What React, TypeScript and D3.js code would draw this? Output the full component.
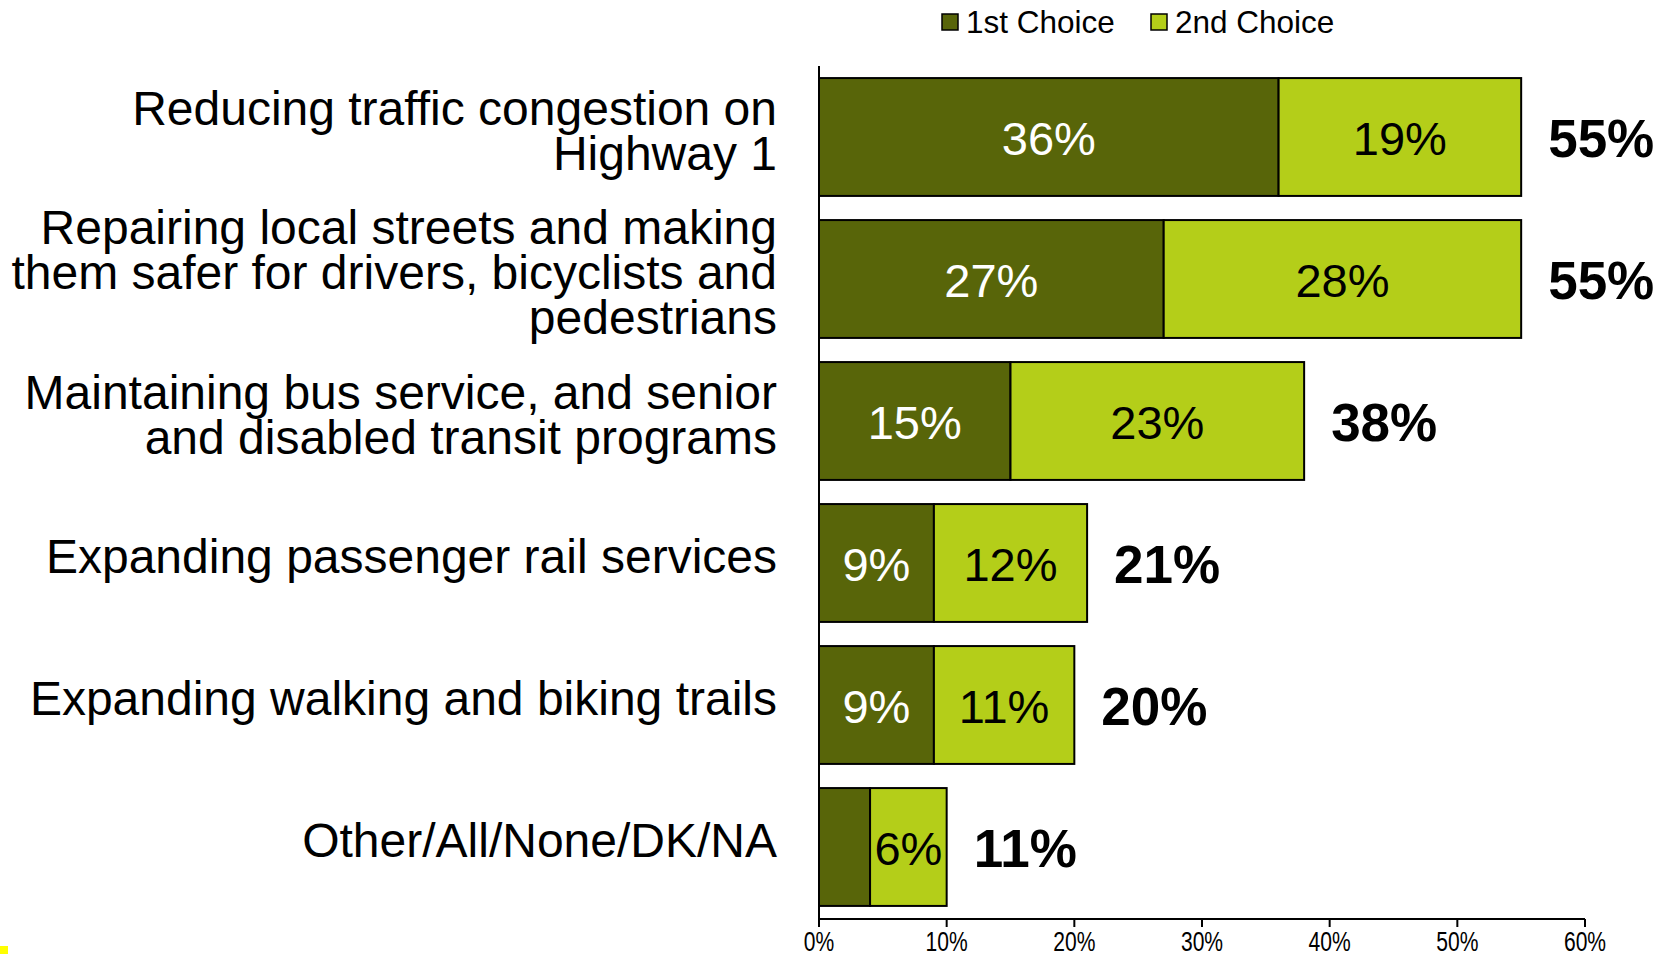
import React from "react";
import * as d3 from "d3";

const categories = [
  ["Reducing traffic congestion on", "Highway 1"],
  ["Repairing local streets and making", "them safer for drivers, bicyclists and", "pedestrians"],
  ["Maintaining bus service, and senior", "and disabled transit programs"],
  ["Expanding passenger rail services"],
  ["Expanding walking and biking trails"],
  ["Other/All/None/DK/NA"],
];
const firstChoice = [36, 27, 15, 9, 9, 4];
const secondChoice = [19, 28, 23, 12, 11, 6];
const firstLabels = ["36%", "27%", "15%", "9%", "9%", ""];
const secondLabels = ["19%", "28%", "23%", "12%", "11%", "6%"];
const totalLabels = ["55%", "55%", "38%", "21%", "20%", "11%"];
const ticks = [0, 10, 20, 30, 40, 50, 60];
const seriesNames = ["1st Choice", "2nd Choice"];

const W = 1675;
const H = 954;
const DARK = "#586509";
const LIGHT = "#b4ce19";
const FONT = "'Liberation Sans', Arial, sans-serif";

export default function App() {
  const x = d3.scaleLinear().domain([0, 60]).range([819, 1585]);
  const idx = categories.map((_, i) => i);
  const y = d3.scaleBand<number>().domain(idx).range([66, 918]).paddingInner(0.17).paddingOuter(0.085);
  const bw = y.bandwidth();
  const colors = [DARK, LIGHT];

  return (
    <svg width={W} height={H} style={{ position: "absolute", left: 0, top: 0, background: "#fff" }} fontFamily={FONT}>
      <rect x={0} y={946} width={8} height={8} fill="#ffff00" />
      {/* legend */}
      {seriesNames.map((s, i) => {
        const lx = [942, 1151][i];
        return (
          <g key={s}>
            <rect x={lx} y={14} width={16} height={16} fill={colors[i]} stroke="#000" strokeWidth={1.5} />
            <text x={lx + 24} y={33} fontSize={31.5} fill="#000">{s}</text>
          </g>
        );
      })}
      {/* bars */}
      {idx.map((i) => {
        const y0 = y(i)!;
        const cy = y0 + bw / 2;
        const a = firstChoice[i];
        const b = secondChoice[i];
        const lines = categories[i];
        return (
          <g key={i}>
            <rect x={x(0)} y={y0} width={x(a) - x(0)} height={bw} fill={DARK} stroke="#000" strokeWidth={2} />
            <rect x={x(a)} y={y0} width={x(a + b) - x(a)} height={bw} fill={LIGHT} stroke="#000" strokeWidth={2} />
            {firstLabels[i] && (
              <text x={(x(0) + x(a)) / 2} y={cy + 18} fontSize={47} fill="#fff" textAnchor="middle">{firstLabels[i]}</text>
            )}
            <text x={(x(a) + x(a + b)) / 2} y={cy + 18} fontSize={47} fill="#000" textAnchor="middle">{secondLabels[i]}</text>
            <text x={x(a + b) + 27} y={cy + 20} fontSize={53} fontWeight="bold" fill="#000">{totalLabels[i]}</text>
            {lines.map((ln, j) => (
              <text key={j} x={777} y={cy - 7 + (j - (lines.length - 1) / 2) * 45 + 17} fontSize={48} fill="#000" textAnchor="end">{ln}</text>
            ))}
          </g>
        );
      })}
      {/* axes */}
      <line x1={819} x2={819} y1={66} y2={927} stroke="#000" strokeWidth={2} />
      <line x1={819} x2={1585} y1={919} y2={919} stroke="#000" strokeWidth={2} />
      {ticks.map((t) => (
        <g key={t}>
          <line x1={x(t)} x2={x(t)} y1={919} y2={927} stroke="#000" strokeWidth={2} />
          <text transform={`translate(${x(t)},951) scale(0.78,1)`} fontSize={27} textAnchor="middle" fill="#000">{t}%</text>
        </g>
      ))}
    </svg>
  );
}
